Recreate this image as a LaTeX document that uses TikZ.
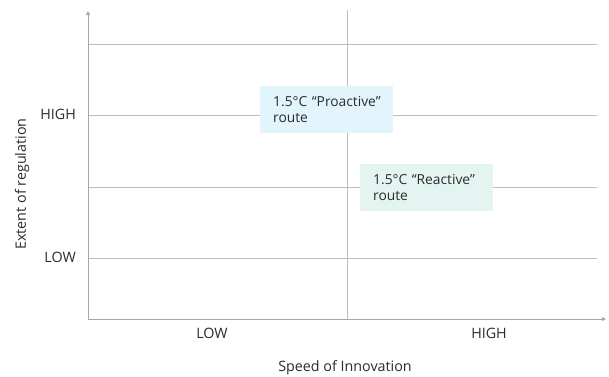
\documentclass[tikz,border=0pt]{standalone}
\usepackage{fontspec}
\setmainfont{Open Sans}
\usetikzlibrary{arrows.meta}
\definecolor{gridc}{HTML}{BDBDBD}
\definecolor{axisc}{HTML}{A8A8A8}
\definecolor{txt}{HTML}{2B2B2B}
\definecolor{proc}{HTML}{E3F5FC}
\definecolor{reac}{HTML}{E4F4F1}
\begin{document}
\begin{tikzpicture}[x=1pt,y=-1pt,
  grid/.style={draw=gridc,line width=0.9pt},
  axis/.style={draw=axisc,line width=1pt,-{Triangle[length=4pt,width=4pt]}},
  lbl/.style={font=\fontsize{14.3}{16}\selectfont,text=txt,inner sep=0pt},
  route/.style={font=\fontsize{13.8}{15.5}\selectfont,text=txt,align=left,anchor=north west,inner xsep=13pt,inner ysep=6pt,minimum width=133pt,minimum height=47pt,text width=107pt}]
\useasboundingbox (0,0) rectangle (609,376);
\fill[white] (0,0) rectangle (609,376);
% gridlines
\coordinate (g1l) at (88,44);  \coordinate (g1r) at (597,44);
\coordinate (g2l) at (88,115); \coordinate (g2r) at (597,115);
\coordinate (g3l) at (88,187); \coordinate (g3r) at (597,187);
\coordinate (g4l) at (88,258); \coordinate (g4r) at (597,258);
\coordinate (vt) at (347,10); \coordinate (vb) at (347,319);
\draw[grid] (g1l) -- (g1r);
\draw[grid] (g2l) -- (g2r);
\draw[grid] (g3l) -- (g3r);
\draw[grid] (g4l) -- (g4r);
\draw[grid] (vt) -- (vb);
% axes
\coordinate (o) at (88,319);
\coordinate (ytop) at (88,11);
\coordinate (xend) at (606,319);
\draw[axis] (o) -- (ytop);
\draw[axis] (o) -- (xend);
% boxes
\node[route,fill=proc] (pro) at (260,86) {\mbox{1.5°C “Proactive”}\\route};
\node[route,fill=reac] (rea) at (360,164) {\mbox{1.5°C “Reactive”}\\route};
% labels
\node[lbl,anchor=east] (yh) at (76,114) {HIGH};
\node[lbl,anchor=east] (yl) at (76,257) {LOW};
\node[lbl,rotate=90] (yt) at (22,184) {Extent of regulation};
\node[lbl] (xl) at (212,333) {LOW};
\node[lbl] (xh) at (489,333) {HIGH};
\node[lbl] (xt) at (345,368) {Speed of Innovation};
\end{tikzpicture}
\end{document}
